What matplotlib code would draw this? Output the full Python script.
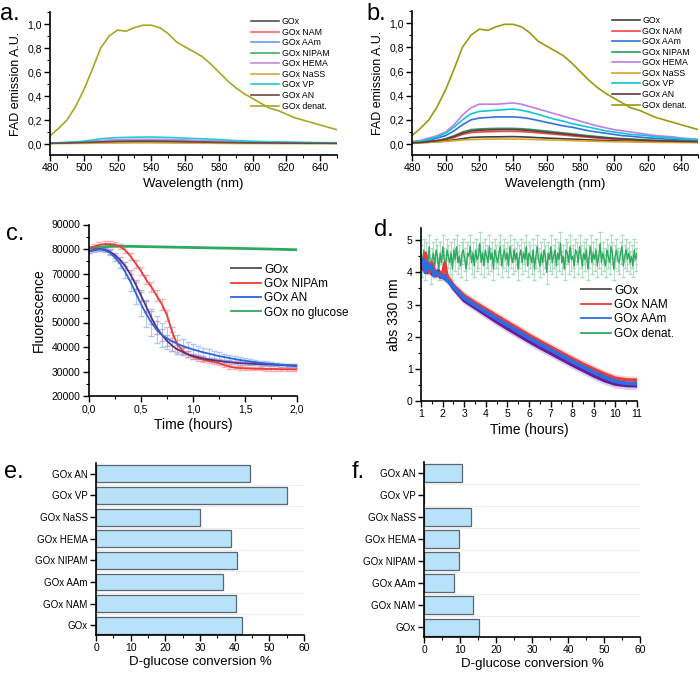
import numpy as np
import matplotlib
matplotlib.use("Agg")
import matplotlib.pyplot as plt
from matplotlib.ticker import MultipleLocator, FuncFormatter
from matplotlib.lines import Line2D

plt.rcParams['font.family'] = ['Liberation Sans', 'DejaVu Sans']

# ---- panel a / b : FAD emission spectra ----
wl = [480, 485, 490, 495, 500, 505, 510, 515, 520, 525, 530, 535, 540, 545, 550, 555, 560, 565,
      570, 575, 580, 585, 590, 595, 600, 605, 610, 615, 620, 625, 630, 635, 640, 645, 650]
denat = [0.07, 0.13, 0.20, 0.31, 0.45, 0.62, 0.80, 0.90, 0.95, 0.94, 0.97, 0.99, 0.99, 0.97, 0.92, 0.85,
         0.81, 0.77, 0.73, 0.67, 0.60, 0.53, 0.47, 0.42, 0.38, 0.34, 0.30, 0.28, 0.25, 0.22, 0.20, 0.18,
         0.16, 0.14, 0.12]

# panel a (native enzyme + conjugates, small signals), 10 nm steps
wl_a = [480, 490, 500, 510, 520, 530, 540, 550, 560, 570, 580, 590, 600, 610, 620, 630, 640, 650]
a_series = {
    'GOx':       [0.008, 0.010, 0.013, 0.017, 0.020, 0.021, 0.021, 0.020, 0.018, 0.016, 0.014, 0.012, 0.011, 0.010, 0.009, 0.008, 0.008, 0.008],
    'GOx NAM':   [0.008, 0.011, 0.015, 0.020, 0.024, 0.025, 0.025, 0.024, 0.022, 0.019, 0.016, 0.014, 0.012, 0.011, 0.010, 0.009, 0.009, 0.008],
    'GOx AAm':   [0.009, 0.012, 0.018, 0.026, 0.032, 0.034, 0.035, 0.033, 0.030, 0.026, 0.022, 0.018, 0.015, 0.013, 0.012, 0.011, 0.010, 0.010],
    'GOx NIPAM': [0.008, 0.011, 0.016, 0.023, 0.028, 0.030, 0.030, 0.029, 0.026, 0.023, 0.019, 0.016, 0.014, 0.012, 0.011, 0.010, 0.009, 0.009],
    'GOx HEMA':  [0.009, 0.013, 0.020, 0.030, 0.038, 0.040, 0.041, 0.039, 0.035, 0.030, 0.026, 0.021, 0.018, 0.015, 0.013, 0.012, 0.011, 0.010],
    'GOx NaSS':  [0.005, 0.006, 0.007, 0.009, 0.010, 0.011, 0.011, 0.010, 0.009, 0.008, 0.007, 0.006, 0.006, 0.005, 0.005, 0.005, 0.005, 0.005],
    'GOx VP':    [0.010, 0.015, 0.025, 0.045, 0.055, 0.058, 0.060, 0.056, 0.050, 0.045, 0.038, 0.030, 0.025, 0.020, 0.018, 0.015, 0.013, 0.012],
    'GOx AN':    [0.007, 0.010, 0.014, 0.019, 0.023, 0.024, 0.024, 0.023, 0.021, 0.018, 0.015, 0.013, 0.011, 0.010, 0.009, 0.008, 0.008, 0.007],
}

# panel b (after denaturation), 5 nm steps
b_series = {
    'GOx':       [0.01, 0.012, 0.015, 0.02, 0.025, 0.035, 0.045, 0.055, 0.058, 0.06, 0.06, 0.061, 0.062, 0.06, 0.057, 0.053, 0.05, 0.047, 0.044, 0.041, 0.038, 0.035, 0.032, 0.03, 0.028, 0.026, 0.024, 0.022, 0.021, 0.02, 0.019, 0.018, 0.017, 0.016, 0.015],
    'GOx NAM':   [0.01, 0.014, 0.019, 0.027, 0.037, 0.055, 0.08, 0.095, 0.1, 0.102, 0.104, 0.105, 0.105, 0.103, 0.099, 0.093, 0.087, 0.081, 0.075, 0.068, 0.062, 0.056, 0.05, 0.045, 0.041, 0.037, 0.034, 0.031, 0.028, 0.026, 0.024, 0.022, 0.021, 0.02, 0.019],
    'GOx AAm':   [0.015, 0.02, 0.03, 0.05, 0.07, 0.11, 0.16, 0.2, 0.215, 0.22, 0.225, 0.225, 0.225, 0.22, 0.21, 0.195, 0.18, 0.165, 0.15, 0.14, 0.125, 0.11, 0.1, 0.09, 0.08, 0.07, 0.065, 0.058, 0.052, 0.047, 0.042, 0.038, 0.034, 0.03, 0.028],
    'GOx NIPAM': [0.01, 0.015, 0.02, 0.03, 0.045, 0.07, 0.1, 0.12, 0.125, 0.128, 0.13, 0.13, 0.13, 0.127, 0.122, 0.115, 0.108, 0.1, 0.093, 0.085, 0.077, 0.07, 0.063, 0.056, 0.05, 0.046, 0.042, 0.038, 0.034, 0.031, 0.028, 0.026, 0.024, 0.022, 0.02],
    'GOx HEMA':  [0.02, 0.03, 0.05, 0.07, 0.1, 0.16, 0.24, 0.3, 0.33, 0.33, 0.33, 0.335, 0.34, 0.33, 0.31, 0.29, 0.27, 0.25, 0.23, 0.21, 0.19, 0.17, 0.15, 0.135, 0.12, 0.11, 0.1, 0.09, 0.08, 0.07, 0.065, 0.06, 0.05, 0.045, 0.04],
    'GOx NaSS':  [0.01, 0.012, 0.015, 0.018, 0.022, 0.028, 0.034, 0.038, 0.04, 0.041, 0.042, 0.042, 0.042, 0.041, 0.039, 0.037, 0.035, 0.033, 0.031, 0.029, 0.027, 0.025, 0.023, 0.021, 0.02, 0.019, 0.018, 0.017, 0.016, 0.015, 0.014, 0.014, 0.013, 0.013, 0.012],
    'GOx VP':    [0.02, 0.025, 0.04, 0.06, 0.09, 0.14, 0.2, 0.25, 0.27, 0.275, 0.28, 0.285, 0.29, 0.28, 0.265, 0.245, 0.225, 0.205, 0.19, 0.17, 0.155, 0.14, 0.125, 0.11, 0.1, 0.09, 0.08, 0.075, 0.07, 0.06, 0.055, 0.05, 0.045, 0.04, 0.035],
    'GOx AN':    [0.01, 0.014, 0.02, 0.028, 0.04, 0.062, 0.09, 0.108, 0.115, 0.117, 0.119, 0.12, 0.12, 0.117, 0.112, 0.105, 0.098, 0.091, 0.084, 0.077, 0.07, 0.063, 0.057, 0.051, 0.046, 0.042, 0.038, 0.034, 0.031, 0.028, 0.026, 0.024, 0.022, 0.021, 0.02],
}

a_colors = {'GOx': '#505050', 'GOx NAM': '#f26a6a', 'GOx AAm': '#6a9be8', 'GOx NIPAM': '#3fae6c',
            'GOx HEMA': '#c28ae8', 'GOx NaSS': '#d9a640', 'GOx VP': '#20ccd4', 'GOx AN': '#6e4646',
            'GOx denat.': '#a6a628'}
b_colors = {'GOx': '#404040', 'GOx NAM': '#f04848', 'GOx AAm': '#2f72e0', 'GOx NIPAM': '#2e9a62',
            'GOx HEMA': '#c07ee8', 'GOx NaSS': '#d8a528', 'GOx VP': '#12c6d0', 'GOx AN': '#6a3838',
            'GOx denat.': '#9a9a10'}

# ---- panel c : fluorescence vs time ----
t_c = np.linspace(0, 2, 41)
gox_c = [79000, 79800, 80000, 79800, 79000, 77500, 75500, 73000, 69500, 65500, 61000, 56500, 52000, 48000,
         45000, 42500, 40500, 39000, 38000, 37000, 36300, 35800, 35300, 34900, 34600, 34300, 34000, 33800,
         33600, 33400, 33300, 33200, 33100, 33000, 32900, 32800, 32700, 32600, 32500, 32500, 32400]
nipam_c = [80000, 81000, 81700, 82000, 82000, 81800, 81000, 79500, 77000, 74000, 71000, 67500, 64500, 61000,
           57500, 53000, 46000, 41000, 38500, 37000, 36000, 35300, 34800, 34300, 33900, 33400, 32600, 32000,
           31600, 31400, 31300, 31200, 31100, 31100, 31000, 31000, 31000, 30900, 30900, 30900, 30800]
an_c = [79000, 79500, 79800, 79500, 78500, 76500, 74000, 70500, 66500, 62000, 57500, 53500, 50000, 47000,
        45000, 43500, 42300, 41300, 40400, 39700, 39000, 38400, 37800, 37300, 36800, 36300, 35900, 35500,
        35100, 34700, 34400, 34100, 33800, 33500, 33300, 33100, 32900, 32700, 32500, 32300, 32100]
an_err = [800, 800, 800, 900, 1000, 1200, 1600, 2500, 3500, 4500, 5000, 5500, 5500, 5500, 5000, 4500, 4000,
          3500, 3000, 2500, 2200, 2000, 1900, 1800, 1600, 1500, 1400, 1300, 1200, 1100, 1000, 900, 900, 800,
          800, 800, 700, 700, 700, 700, 700]
nipam_err = [900, 1000, 1100, 1100, 1100, 1100, 1200, 1300, 1500, 1700, 1800, 1900, 2000, 2100, 2200, 2300,
             2200, 1800, 1500, 1200, 1100, 1000, 1000, 900, 900, 900, 800, 800, 700, 700, 700, 700, 600,
             600, 600, 600, 600, 600, 600, 600, 600]
gox_err = [700, 700, 700, 800, 900, 1000, 1200, 1500, 1800, 2000, 2200, 2400, 2500, 2500, 2400, 2200, 2000,
           1700, 1400, 1200, 1000, 900, 900, 800, 800, 800, 700, 700, 700, 700, 600, 600, 600, 600, 600,
           600, 600, 600, 600, 600, 600]
t_noglu = [0, 0.25, 0.5, 1.0, 1.5, 2.0]
noglu_c = [80500, 81200, 81000, 80600, 80200, 79700]

# ---- panel d : abs 330 nm vs time ----
t_d = [1.0, 1.1, 1.2, 1.3, 1.4, 1.5, 1.6, 1.7, 1.8, 1.9, 2.0, 2.1, 2.2, 2.3, 2.4, 2.5,
       3.0, 3.5, 4.0, 4.5, 5.0, 5.5, 6.0, 6.5, 7.0, 7.5, 8.0, 8.5, 9.0, 9.5, 10.0, 10.5, 11.0]
gox_d = [4.3, 4.1, 4.5, 4.0, 4.2, 3.95, 4.1, 3.9, 4.05, 3.85, 3.9, 3.8, 3.85, 3.7, 3.6, 3.5,
         3.12, 2.9, 2.68, 2.46, 2.25, 2.05, 1.85, 1.66, 1.48, 1.3, 1.12, 0.95, 0.78, 0.63, 0.52, 0.48, 0.47]
aam_d = [4.2, 4.4, 4.0, 4.3, 4.1, 4.2, 3.9, 4.0, 3.95, 3.9, 3.85, 3.9, 3.75, 3.7, 3.65, 3.55,
         3.2, 2.98, 2.77, 2.56, 2.36, 2.16, 1.96, 1.77, 1.59, 1.41, 1.23, 1.06, 0.89, 0.74, 0.61, 0.55, 0.54]
nam_d = [4.1, 4.3, 4.6, 4.2, 4.0, 4.3, 4.1, 4.0, 3.9, 4.0, 3.95, 4.3, 3.9, 3.8, 3.7, 3.6,
         3.28, 3.06, 2.86, 2.65, 2.45, 2.25, 2.05, 1.86, 1.68, 1.5, 1.32, 1.15, 0.99, 0.84, 0.71, 0.66, 0.65]
denat_d = [4.5, 4.2, 4.7, 4.1, 4.6, 4.3, 4.8, 4.0, 4.4, 4.6, 4.2, 4.7, 4.5, 4.1, 4.6, 4.3, 4.8, 4.4, 4.2,
           4.7, 4.5, 4.3, 4.6, 4.1, 4.7, 4.4, 4.8, 4.3, 4.5, 4.2, 4.6, 4.7, 4.4, 4.1, 4.6, 4.5, 4.8, 4.3,
           4.6, 4.2, 4.7, 4.4, 4.5, 4.9, 4.3, 4.6, 4.2, 4.7, 4.5, 4.3, 4.8, 4.4, 4.6, 4.1, 4.7, 4.5, 4.3,
           4.6, 4.8, 4.2, 4.5, 4.7, 4.4, 4.6, 4.2, 4.8, 4.5, 4.3, 4.7, 4.4, 4.6, 4.1, 4.5, 4.7, 4.3, 4.6,
           4.4, 4.8, 4.2, 4.6, 4.5, 4.3, 4.7, 4.1, 4.5, 4.8, 4.4, 4.2, 4.6, 4.3, 4.7, 4.5, 4.0, 4.6, 4.4,
           4.8, 4.3, 4.5, 4.7, 4.2, 4.6, 4.4, 4.9, 4.3, 4.5, 4.1, 4.7, 4.6, 4.3, 4.8, 4.4, 4.5, 4.2, 4.7,
           4.6, 4.3, 4.8, 4.5, 4.2, 4.6, 4.4, 4.7, 4.1, 4.5, 4.8, 4.3, 4.6, 4.4, 4.7, 4.2, 4.5, 4.9, 4.3,
           4.6, 4.4, 4.2, 4.7, 4.5, 4.3, 4.8, 4.6, 4.1, 4.5, 4.7, 4.4, 4.3, 4.6, 4.8, 4.2, 4.5, 4.7, 4.4,
           4.6, 4.3, 4.5, 4.2, 4.7, 4.4, 4.6]

# ---- panel e / f : D-glucose conversion ----
bar_labels = ['GOx', 'GOx NAM', 'GOx AAm', 'GOx NIPAM', 'GOx HEMA', 'GOx NaSS', 'GOx VP', 'GOx AN']
conv_e = [42.0, 40.5, 36.7, 40.7, 39.0, 30.0, 55.0, 44.5]
conv_f = [15.2, 13.7, 8.3, 9.8, 9.8, 13.0, 0.0, 10.5]


def comma(x, pos, nd=1):
    return ('{:.%df}' % nd).format(x).replace('.', ',')


def style(ax):
    for s in ['top', 'right']:
        ax.spines[s].set_visible(False)
    for s in ['left', 'bottom']:
        ax.spines[s].set_linewidth(1.2)
    ax.tick_params(which='major', direction='out', length=4, width=1, labelsize=7.5, pad=2)
    ax.tick_params(which='minor', direction='out', length=2.5, width=0.8)


fig = plt.figure(figsize=(7.0, 6.74), dpi=100)
W, H = 700.0, 674.0


def box(x0, y0, x1, y1):
    return [x0 / W, 1 - y1 / H, (x1 - x0) / W, (y1 - y0) / H]


# spectra
for rect, series, wgrid, cols in [(box(50, 12, 337, 155), a_series, wl_a, a_colors),
                                  (box(412, 11, 698, 155), b_series, wl, b_colors)]:
    ax = fig.add_axes(rect)
    for name, vals in series.items():
        ax.plot(wgrid, vals, color=cols[name], lw=1.2, label=name)
    ax.plot(wl, denat, color=cols['GOx denat.'], lw=1.2, label='GOx denat.')
    ax.set_xlim(480, 650)
    ax.set_ylim(-0.09, 1.1)
    ax.xaxis.set_major_locator(MultipleLocator(20))
    ax.xaxis.set_minor_locator(MultipleLocator(10))
    ax.yaxis.set_major_locator(MultipleLocator(0.2))
    ax.yaxis.set_minor_locator(MultipleLocator(0.1))
    ax.yaxis.set_major_formatter(FuncFormatter(comma))
    style(ax)
    ax.set_xlabel('Wavelength (nm)', fontsize=9.5, labelpad=3)
    ax.set_ylabel('FAD emission A.U.', fontsize=9, labelpad=4)
    ax.legend(loc='upper right', bbox_to_anchor=(1.0, 1.02), frameon=False, fontsize=6.3,
              handlelength=3.2, labelspacing=0.18, handletextpad=0.3)

fig.text(0 / W, 1 - 20 / H, 'a.', fontsize=17)
fig.text(366 / W, 1 - 20 / H, 'b.', fontsize=17)

# panel c
axc = fig.add_axes(box(89, 224.5, 297, 396))
axc.errorbar(t_c, an_c, yerr=an_err, fmt='none', ecolor='#9cbcf0', elinewidth=0.8, capsize=2, alpha=0.8)
axc.errorbar(t_c, nipam_c, yerr=nipam_err, fmt='none', ecolor='#f4a0a0', elinewidth=0.8, capsize=2, alpha=0.8)
axc.errorbar(t_c, gox_c, yerr=gox_err, fmt='none', ecolor='#b0a0c8', elinewidth=0.8, capsize=2, alpha=0.8)
axc.plot(t_noglu, noglu_c, color='#2eaa60', lw=2)
axc.plot(t_c, nipam_c, color='#f03a3a', lw=1.3)
axc.plot(t_c, gox_c, color='#5a2e80', lw=1.3)
axc.plot(t_c, an_c, color='#2a62e0', lw=1.3)
axc.set_xlim(0, 2)
axc.set_ylim(20000, 90000)
axc.xaxis.set_major_locator(MultipleLocator(0.5))
axc.xaxis.set_minor_locator(MultipleLocator(0.25))
axc.xaxis.set_major_formatter(FuncFormatter(comma))
axc.yaxis.set_major_locator(MultipleLocator(10000))
axc.yaxis.set_minor_locator(MultipleLocator(5000))
style(axc)
axc.set_xlabel('Time (hours)', fontsize=10, labelpad=3)
axc.set_ylabel('Fluorescence', fontsize=10)
hc = [Line2D([], [], color='#505050', lw=1.3), Line2D([], [], color='#f03a3a', lw=1.3),
      Line2D([], [], color='#2a62e0', lw=1.3), Line2D([], [], color='#2eaa60', lw=1.3)]
axc.legend(hc, ['GOx', 'GOx NIPAm', 'GOx AN', 'GOx no glucose'], loc='upper left',
           bbox_to_anchor=(0.66, 0.80), frameon=False, fontsize=8.5, handlelength=2.5,
           labelspacing=0.2, handletextpad=0.3, borderaxespad=0)
fig.text(6 / W, 1 - 240 / H, 'c.', fontsize=17)

# panel d
axd = fig.add_axes(box(421, 228, 637, 401))
t_den = np.linspace(1, 11, len(denat_d))
axd.errorbar(t_den, denat_d, yerr=0.35, fmt='none', ecolor='#a8dcbc', elinewidth=0.6, capsize=1.2)
axd.plot(t_den, denat_d, color='#2eaa60', lw=1.0)
for vals, col, ecol, lw in [(gox_d, '#6a1a9a', '#c0a0d8', 2.4), (nam_d, '#f03a3a', '#f6a4a4', 2.4),
                            (aam_d, '#2a6ee0', '#9cbcf0', 2.8)]:
    lo = [v - 0.12 for v in vals]
    hi = [v + 0.12 for v in vals]
    axd.fill_between(t_d, lo, hi, color=ecol, lw=0, alpha=0.5)
    axd.plot(t_d, vals, color=col, lw=lw)
axd.set_xlim(1, 11)
axd.set_ylim(0, 5.38)
axd.xaxis.set_major_locator(MultipleLocator(1))
axd.xaxis.set_minor_locator(MultipleLocator(0.5))
axd.yaxis.set_major_locator(MultipleLocator(1))
axd.yaxis.set_minor_locator(MultipleLocator(0.5))
style(axd)
axd.set_xlabel('Time (hours)', fontsize=10, labelpad=3)
axd.set_ylabel('abs 330 nm', fontsize=10)
hd = [Line2D([], [], color='#505050', lw=1.3), Line2D([], [], color='#f03a3a', lw=1.3),
      Line2D([], [], color='#2a6ee0', lw=1.3), Line2D([], [], color='#2eaa60', lw=1.3)]
axd.legend(hd, ['GOx', 'GOx NAM', 'GOx AAm', 'GOx denat.'], loc='upper left',
           bbox_to_anchor=(0.72, 0.70), frameon=False, fontsize=8.5, handlelength=2.5,
           labelspacing=0.2, handletextpad=0.3, borderaxespad=0)
fig.text(374 / W, 1 - 236 / H, 'd.', fontsize=17)

# panels e / f
for rect, vals, lab, lx in [(box(96, 463, 304, 635), conv_e, 'e.', 4),
                            (box(424, 462, 640, 637), conv_f, 'f.', 352)]:
    ax = fig.add_axes(rect)
    y = np.arange(len(bar_labels))
    ax.hlines(y[:-1] + 0.5, 0, 60, color='#ededed', lw=0.8, zorder=0)
    ax.barh(y, vals, height=0.78, color='#b8e2fa', edgecolor='#5a6670', linewidth=0.9, zorder=2)
    ax.set_yticks(y)
    ax.set_yticklabels(bar_labels)
    ax.set_xlim(0, 60)
    ax.set_ylim(-0.45, 7.5)
    ax.xaxis.set_major_locator(MultipleLocator(10))
    ax.xaxis.set_minor_locator(MultipleLocator(5))
    style(ax)
    ax.tick_params(axis='y', labelsize=7)
    ax.set_xlabel('D-glucose conversion %', fontsize=9.5, labelpad=2)
    fig.text(lx / W, 1 - 478 / H, lab, fontsize=17)

fig.savefig('out.png', dpi=100)
